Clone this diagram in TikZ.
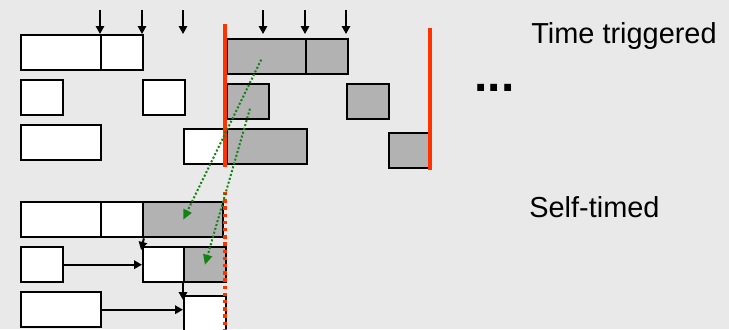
\documentclass[tikz,border=0pt]{standalone}
\usepackage{fontspec}
\setmainfont{Liberation Sans}
\usetikzlibrary{arrows.meta}

\definecolor{bg}{RGB}{233,233,233}
\definecolor{cut}{RGB}{255,51,0}
\definecolor{flow}{RGB}{20,130,20}

\begin{document}
\begin{tikzpicture}[x=0.5pt, y=-0.5pt, >={Triangle[length=4pt, width=4.2pt]},
   task/.style={rectangle, draw, line width=1.2pt, fill=white, inner sep=0pt,
                minimum height=17.5pt, anchor=north west},
   busy/.style={task, fill=black!30},
   short/.style={minimum width=20.75pt},
   long/.style={minimum width=40pt},
   tick/.style={->, line width=0.9pt},
   conn/.style={->, line width=1pt},
   flow/.style={-{Triangle[length=5pt, width=4.5pt]}, draw=flow, line width=1pt, densely dotted},
   caption/.style={anchor=base west, inner sep=0pt, font=\fontsize{14.45}{17}\selectfont}]
  \fill[bg] (0,0) rectangle (729,329);
  \useasboundingbox (0,0) rectangle (729,329);
  \clip (0,0) rectangle (729,329);

  % time triggered schedule
  \node[task, long]   (r1a) at (20,34)   {};
  \node[task, short]  (r1b) at (100,34)  {};
  \node[busy, long]   (r1c) at (226,38)  {};
  \node[busy, short]  (r1d) at (305,38)  {};
  \node[task, short]  (r2a) at (20,79)   {};
  \node[task, short]  (r2b) at (142,79)  {};
  \node[busy, short]  (r2c) at (226,83)  {};
  \node[busy, short]  (r2d) at (346,83)  {};
  \node[task, long]   (r3a) at (20,124)  {};
  \node[task, short]  (r3b) at (183,128) {};
  \node[busy, long]   (r3c) at (226,128) {};
  \node[busy, short]  (r3d) at (388,132) {};

  % clock ticks
  \foreach \x [count=\i] in {100,142,183,263,305,346} {
    \coordinate (tick\i a) at (\x,10);
    \coordinate (tick\i b) at (\x,34);
    \draw[tick] (tick\i a) -- (tick\i b);
  }

  % period boundaries
  \draw[cut, line width=2pt] (225,24) -- (225,167);
  \draw[cut, line width=2pt] (430,28) -- (430,170);

  % self-timed schedule
  \node[task, long]   (s1a) at (20,201)  {};
  \node[task, short]  (s1b) at (100,201) {};
  \node[busy, long]   (s1c) at (142,201) {};
  \node[task, short]  (s2a) at (20,246)  {};
  \node[task, short]  (s2b) at (142,246) {};
  \node[busy, short]  (s2c) at (183,246) {};
  \node[task, long]   (s3a) at (20,291)  {};
  \node[task, short, minimum height=22pt] (s3b) at (183,295) {};

  \draw[conn] (s2a.east) -- (s2b.west);
  \draw[conn] (s3a.east) -- (s3a.east -| s3b.west);
  \draw[conn, shorten >=-2pt] (s1b.south east) -- (s2b.north west);
  \draw[conn, shorten >=-2.5pt] (s2c.south west) -- (s3b.north west);

  \draw[cut, line width=1.7pt, dash pattern=on 1.7pt off 1.9pt] (225,192) -- (225,329);

  % shift of the busy slots
  \draw[flow] ([xshift=-3pt, yshift=-1.5pt]r1c.center) -- (s1c.center);
  \draw[flow] ([xshift=1pt, yshift=-3.5pt]r2c.center) -- (s2c.center);

  \node[caption] (tt) at (531,43) {Time triggered};
  \node[caption] (st) at (529,217) {Self-timed};
  \node[inner sep=0pt, font=\fontsize{24}{24}\selectfont\bfseries] (more) at (494.5,88) {...};
\end{tikzpicture}
\end{document}
